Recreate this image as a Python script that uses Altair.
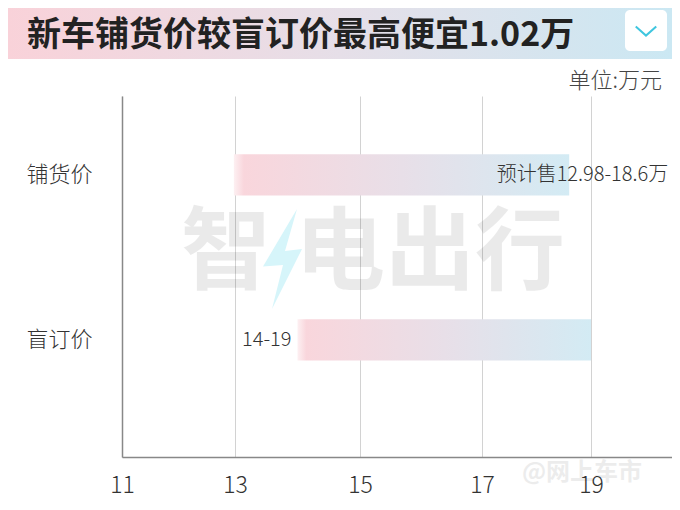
import altair as alt
import pandas as pd

# ---- data ----
categories = ["铺货价", "盲订价"]
low_price = [12.98, 14]
high_price = [18.6, 19]
bar_labels = ["预计售12.98-18.6万", "14-19"]
x_ticks = [11, 13, 15, 17, 19]
title_text = "新车铺货价较盲订价最高便宜1.02万"
unit_text = "单位:万元"
watermark_1 = "智"
watermark_2 = "电出行"
source_mark = "@网上车市"

FONT = "Noto Sans CJK SC"
W, H = 550, 361

df = pd.DataFrame({
    "cat": categories,
    "low": low_price,
    "high": high_price,
    "label": bar_labels,
})
one = pd.DataFrame({"a": [0]})

xscale = alt.Scale(domain=[11, 13, 15, 17, 19, 20.4],
                   range=[0, 113, 238, 360, 469, 550])
yscale = alt.Scale(domain=categories, paddingInner=0.75,
                   paddingOuter=0.469, align=0.377)

bar_grad = alt.Gradient(
    gradient="linear",
    stops=[alt.GradientStop(offset=0, color="#fdf0f2"),
           alt.GradientStop(offset=0.03, color="#f9d6dc"),
           alt.GradientStop(offset=0.5, color="#e8dfe8"),
           alt.GradientStop(offset=1, color="#d3ebf4")],
    x1=0, x2=1, y1=0, y2=0)

band_grad = alt.Gradient(
    gradient="linear",
    stops=[alt.GradientStop(offset=0, color="#f9d2d9"),
           alt.GradientStop(offset=0.5, color="#e6dfe8"),
           alt.GradientStop(offset=1, color="#cbe8f3")],
    x1=0, x2=1, y1=0, y2=0)

# header band
band = alt.Chart(one).mark_rect(color=band_grad).encode(
    x=alt.value(-114), x2=alt.value(W), y=alt.value(-88), y2=alt.value(-37))

title = alt.Chart(one).mark_text(
    text=title_text, font=FONT, fontSize=34, fontWeight="bold",
    color="#222222", align="left", baseline="middle").encode(
    x=alt.value(-95), y=alt.value(-60))

box = alt.Chart(one).mark_rect(color="white", cornerRadius=5).encode(
    x=alt.value(503), x2=alt.value(545), y=alt.value(-86), y2=alt.value(-45))

chevron = alt.Chart(one).mark_point(
    shape="M -1 -0.45 L 0 0.45 L 1 -0.45", filled=False, stroke="#3fc6df",
    strokeWidth=2, size=420, opacity=1).encode(
    x=alt.value(524), y=alt.value(-65))

unit = alt.Chart(one).mark_text(
    text=unit_text, font=FONT, fontSize=22, fontWeight=300,
    color="#444444", align="right", baseline="middle").encode(
    x=alt.value(540), y=alt.value(-15))

# watermark
wm1 = alt.Chart(one).mark_text(
    text=watermark_1, font=FONT, fontSize=90, fontWeight="bold",
    color="#000000", opacity=0.08, align="center", baseline="middle").encode(
    x=alt.value(104), y=alt.value(159))
wm2 = alt.Chart(one).mark_text(
    text=watermark_2, font=FONT, fontSize=90, fontWeight="bold",
    color="#000000", opacity=0.08, align="center", baseline="middle").encode(
    x=alt.value(308), y=alt.value(159))
bolt = alt.Chart(one).mark_point(
    shape="M 0.3 -1 L -0.38 0.15 L 0.02 0.12 L -0.2 1 L 0.4 -0.2 L 0.06 -0.16 Z",
    filled=True, color="#d6f5fa", opacity=1, size=10000).encode(
    x=alt.value(160), y=alt.value(163))
src = alt.Chart(one).mark_text(
    text=source_mark, font=FONT, fontSize=24, fontWeight="bold",
    color="#000000", opacity=0.07, align="center", baseline="middle").encode(
    x=alt.value(460), y=alt.value(377))

# bars
base = alt.Chart(df)
bars = base.mark_bar(color=bar_grad).encode(
    x=alt.X("low:Q", scale=xscale,
            axis=alt.Axis(values=x_ticks, grid=True, title=None, format="d",
                          labelFlush=False)),
    x2="high:Q",
    y=alt.Y("cat:N", scale=yscale, sort=categories,
            axis=alt.Axis(title=None)),
)

lab1 = base.transform_filter(alt.datum.cat == categories[0]).mark_text(
    font=FONT, fontSize=20, fontWeight=300, color="#333333",
    align="right", baseline="middle", dx=99).encode(
    x=alt.X("high:Q", scale=xscale), y=alt.Y("cat:N", scale=yscale, sort=categories),
    text="label:N")
lab2 = base.transform_filter(alt.datum.cat == categories[1]).mark_text(
    font=FONT, fontSize=20, fontWeight=300, color="#333333",
    align="right", baseline="middle", dx=-6).encode(
    x=alt.X("low:Q", scale=xscale), y=alt.Y("cat:N", scale=yscale, sort=categories),
    text="label:N")

chart = alt.layer(
    band, title, box, chevron, unit, bars, wm1, bolt, wm2, src, lab1, lab2
).properties(
    width=W, height=H,
    autosize=alt.AutoSizeParams(type="none"),
    padding={"left": 114, "top": 88, "right": 0, "bottom": 42},
).configure_view(stroke=None).configure_axis(
    labelFont=FONT, labelColor="#333333", labelFontWeight=300,
    domainColor="#888888", domainWidth=1.5,
    gridColor="#d2d2d2", gridWidth=1, ticks=False,
).configure_axisX(
    labelFontSize=23, labelPadding=17,
).configure_axisY(
    labelFontSize=22, labelPadding=30, grid=False,
)

chart.save("out.html", embed_options={"renderer": "svg", "actions": False})
